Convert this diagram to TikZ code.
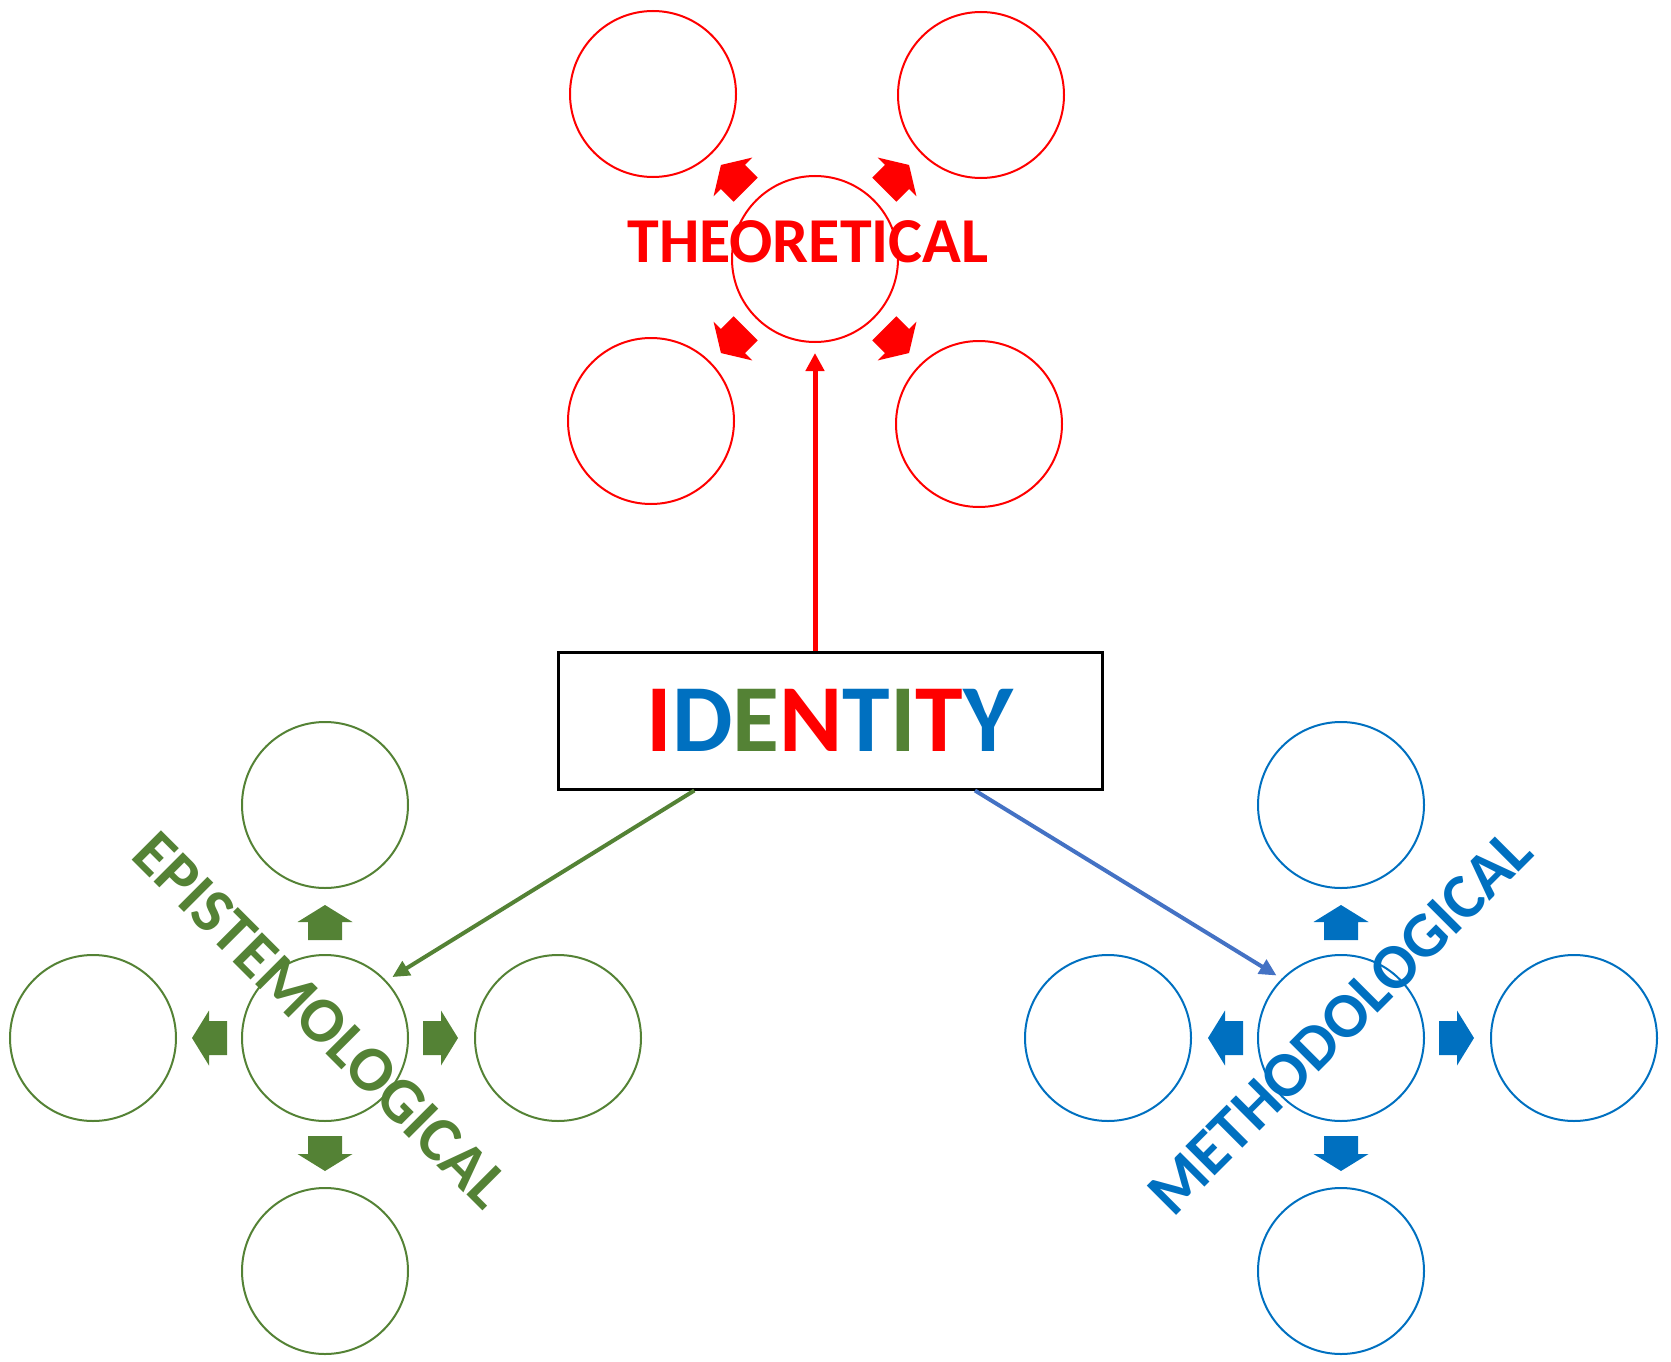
\documentclass[tikz,border=0pt]{standalone}
\usepackage{fontspec}
\newfontfamily\carl{Carlito}
\usetikzlibrary{calc,arrows.meta}
\definecolor{tred}{HTML}{FF0000}
\definecolor{tblue}{HTML}{0070C0}
\definecolor{tgreen}{HTML}{548235}
\definecolor{lblue}{HTML}{4472C4}
\begin{document}
\begin{tikzpicture}[x=1pt,y=-1pt,
  ring/.style={circle,draw,line width=2pt,minimum size=166pt,inner sep=0pt},
  blockarrow/.pic={\fill (0,-17) -- (18,-17) -- (18,-27.5) -- (35,0) -- (18,27.5) -- (18,17) -- (0,17) -- cycle;},
  tlabel/.style={font=\carl\bfseries\fontsize{64}{64}\selectfont,inner sep=0pt},
  idboxstyle/.style={draw=black,line width=3pt,minimum width=544pt,minimum height=137pt,inner sep=0pt,
    font=\carl\bfseries\fontsize{96}{96}\selectfont},
  link/.style={line width=4pt,-{Triangle[width=16pt,length=17pt]}}
]
\useasboundingbox (0,0) rectangle (1671,1362);

% red (theoretical) group
\node[ring,draw=tred] (rC) at (815,259) {};
\node[ring,draw=tred] (rNW) at (653,94) {};
\node[ring,draw=tred] (rNE) at (981,95) {};
\node[ring,draw=tred] (rSW) at (651,421) {};
\node[ring,draw=tred] (rSE) at (979,424) {};
\pic[tred,rotate=135] at ($(rC)+(-69.3,-69.3)$) {blockarrow};
\pic[tred,rotate=45] at ($(rC)+(69.3,-69.3)$) {blockarrow};
\pic[tred,rotate=-135] at ($(rC)+(-69.3,69.3)$) {blockarrow};
\pic[tred,rotate=-45] at ($(rC)+(69.3,69.3)$) {blockarrow};
\node[tlabel,text=tred] (theo) at (808,241.5) {THEORETICAL};

% green (epistemological) group
\node[ring,draw=tgreen] (gC) at (325,1038) {};
\node[ring,draw=tgreen] (gN) at (325,805) {};
\node[ring,draw=tgreen] (gW) at (93,1038) {};
\node[ring,draw=tgreen] (gE) at (558,1038) {};
\node[ring,draw=tgreen] (gS) at (325,1271) {};
\pic[tgreen,rotate=90] at ($(gC)+(0,-98)$) {blockarrow};
\pic[tgreen,rotate=-90] at ($(gC)+(0,98)$) {blockarrow};
\pic[tgreen,rotate=180] at ($(gC)+(-98,0)$) {blockarrow};
\pic[tgreen,rotate=0] at ($(gC)+(98,0)$) {blockarrow};
\node[tlabel,text=tgreen,rotate=-45] (epi) at (321,1020) {EPISTEMOLOGICAL};

% blue (methodological) group
\node[ring,draw=tblue] (bC) at (1341,1038) {};
\node[ring,draw=tblue] (bN) at (1341,805) {};
\node[ring,draw=tblue] (bW) at (1108,1038) {};
\node[ring,draw=tblue] (bE) at (1574,1038) {};
\node[ring,draw=tblue] (bS) at (1341,1271) {};
\pic[tblue,rotate=90] at ($(bC)+(0,-98)$) {blockarrow};
\pic[tblue,rotate=-90] at ($(bC)+(0,98)$) {blockarrow};
\pic[tblue,rotate=180] at ($(bC)+(-98,0)$) {blockarrow};
\pic[tblue,rotate=0] at ($(bC)+(98,0)$) {blockarrow};
\node[tlabel,text=tblue,rotate=45] (meth) at (1340,1022) {METHODOLOGICAL};

% identity box
\node[idboxstyle] (idbox) at (830,720.5) {{\color{tred}I}{\color{tblue}D}{\color{tgreen}E}{\color{tred}N}{\color{tblue}T}{\color{tgreen}I}{\color{tred}T}{\color{tblue}Y}};

% connectors
\draw[tred,line width=5pt,-{Triangle[width=18pt,length=18pt]},shorten >=10pt] (rC.south |- idbox.north) -- (rC.south);
\draw[tgreen,link,shorten >=7pt] ($(idbox.south west)!0.252!(idbox.south east)$) -- (gC.43);
\draw[lblue,link,shorten >=6pt] ($(idbox.south west)!0.765!(idbox.south east)$) -- (bC.135);
\end{tikzpicture}
\end{document}
